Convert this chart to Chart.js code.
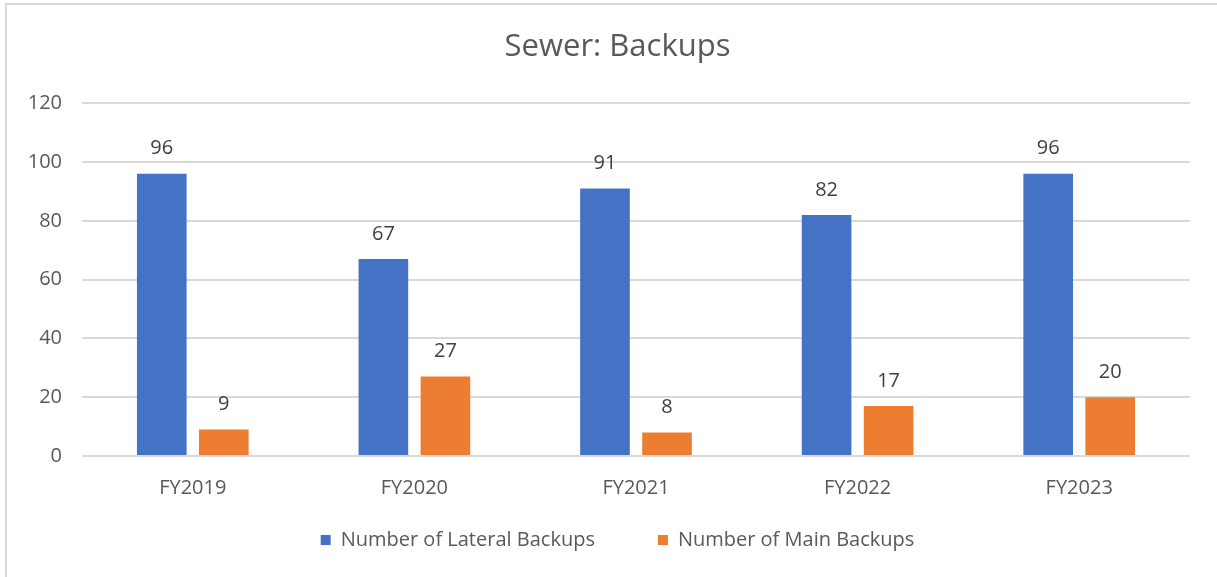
<!DOCTYPE html>
<html>
<head>
<meta charset="utf-8">
<script src="https://cdn.jsdelivr.net/npm/chart.js@4.4.1/dist/chart.umd.min.js"></script>
<style>
  html, body { margin: 0; padding: 0; background: #fff; }
  #wrap { width: 1217px; height: 577px; position: relative; }
</style>
</head>
<body>
<div id="wrap"><canvas id="backupsChart" width="1217" height="577"></canvas></div>
<script>
const years = ["FY2019", "FY2020", "FY2021", "FY2022", "FY2023"];
const lateralBackups = [96, 67, 91, 82, 96];
const mainBackups = [9, 27, 8, 17, 20];
const yTicks = [0, 20, 40, 60, 80, 100, 120];

const fontFamily = "'Open Sans', 'Noto Sans', sans-serif";
const textColor = "#595959";

// frame round the chart (left and top edges visible in the picture)
const framePlugin = {
  id: "frame",
  beforeDraw(chart) {
    const c = chart.ctx;
    c.save();
    c.fillStyle = "#fff";
    c.fillRect(0, 0, chart.width, chart.height);
    c.strokeStyle = "#d9d9d9";
    c.lineWidth = 2;
    c.beginPath();
    c.moveTo(6, chart.height);
    c.lineTo(6, 4);
    c.lineTo(chart.width, 4);
    c.stroke();
    c.restore();
  }
};

// value labels above each bar
const valueLabels = {
  id: "valueLabels",
  afterDatasetsDraw(chart) {
    const c = chart.ctx;
    c.save();
    c.font = "20px " + fontFamily;
    c.fillStyle = "#404040";
    c.textAlign = "center";
    c.textBaseline = "middle";
    chart.data.datasets.forEach((ds, i) => {
      chart.getDatasetMeta(i).data.forEach((bar, j) => {
        c.fillText(ds.data[j], bar.x, bar.y - 25);
      });
    });
    c.restore();
  }
};

// tick labels sit outside the axis boxes, so don't clip them
const noLabelClip = (s) => { s._computeLabelArea = () => undefined; };

new Chart(document.getElementById("backupsChart").getContext("2d"), {
  type: "bar",
  data: {
    labels: years,
    datasets: [
      {
        label: "Number of Lateral Backups",
        data: lateralBackups,
        backgroundColor: "#4472c4",
        barPercentage: 0.8,
        categoryPercentage: 0.56
      },
      {
        label: "Number of Main Backups",
        data: mainBackups,
        backgroundColor: "#ed7d31",
        barPercentage: 0.8,
        categoryPercentage: 0.56
      }
    ]
  },
  options: {
    responsive: false,
    animation: false,
    layout: { padding: { left: 45, right: 27, top: 0, bottom: 17 } },
    plugins: {
      title: {
        display: true,
        text: "Sewer: Backups",
        color: textColor,
        font: { family: fontFamily, size: 31, weight: "normal" },
        padding: { top: 29, bottom: 37 }
      },
      legend: {
        position: "bottom",
        labels: {
          color: textColor,
          font: { family: fontFamily, size: 20 },
          boxWidth: 10,
          boxHeight: 10,
          padding: 63
        }
      },
      tooltip: { enabled: false }
    },
    scales: {
      x: {
        grid: { display: false, drawTicks: false },
        border: { display: false },
        ticks: {
          color: textColor,
          font: { family: fontFamily, size: 20 },
          padding: 20,
          autoSkip: false
        },
        afterFit: (s) => { s.height = 11; noLabelClip(s); }
      },
      y: {
        min: 0,
        max: 120,
        afterBuildTicks: (s) => { s.ticks = yTicks.map((v) => ({ value: v })); },
        grid: { color: "#d9d9d9", lineWidth: 2, drawTicks: false },
        border: { display: false },
        ticks: {
          color: textColor,
          font: { family: fontFamily, size: 20 },
          padding: 20
        },
        afterFit: (s) => { s.width = 37; noLabelClip(s); }
      }
    }
  },
  plugins: [framePlugin, valueLabels]
});
</script>
</body>
</html>
